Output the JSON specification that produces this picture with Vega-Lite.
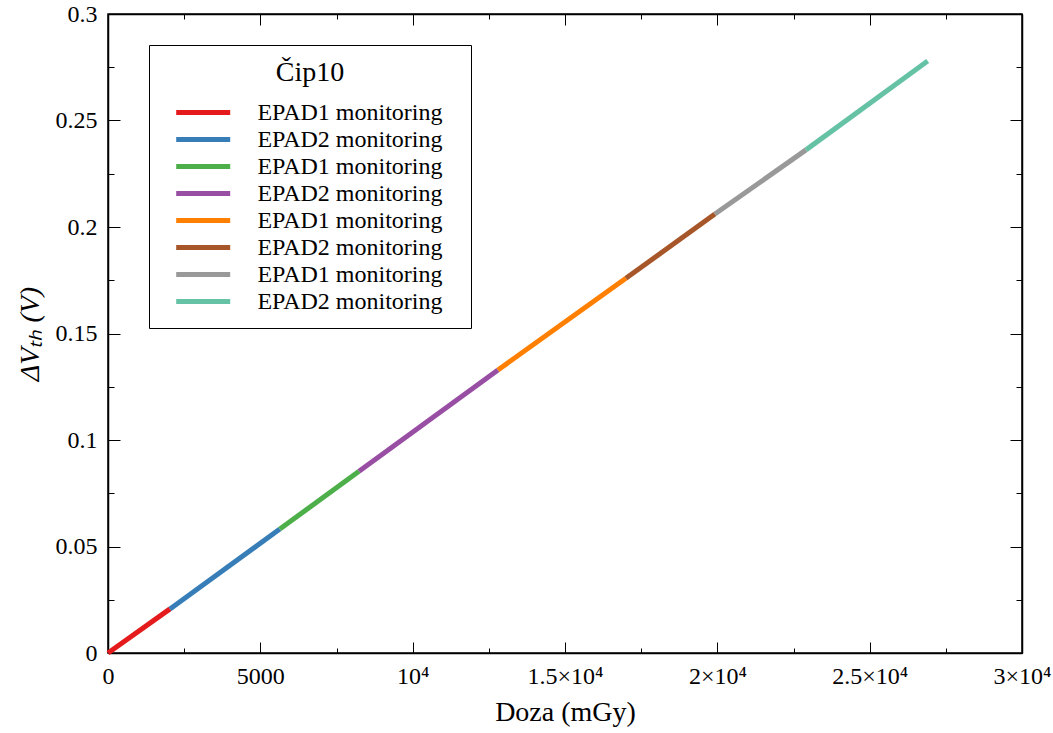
{
  "$schema": "https://vega.github.io/schema/vega-lite/v6.json",
  "width": 914,
  "height": 639,
  "autosize": {"type": "none"},
  "padding": {"left": 108, "top": 14, "right": 31, "bottom": 80},
  "background": "white",
  "config": {
    "view": {"stroke": "black", "strokeWidth": 1.5},
    "axis": {
      "domainColor": "black",
      "domainWidth": 1.5,
      "tickColor": "black",
      "tickWidth": 1,
      "labelColor": "black",
      "labelFont": "Liberation Serif",
      "labelFontSize": 24,
      "titleFont": "Liberation Serif",
      "titleFontSize": 28,
      "titleFontWeight": "normal",
      "titleColor": "black",
      "grid": false,
      "labelOverlap": false,
      "labelFlush": false
    },
    "legend": {
      "labelFont": "Liberation Serif",
      "titleFont": "Liberation Serif",
      "strokeWidth": 1
    }
  },
  "data": {
    "values": [
      {"dose": 0, "dv": 0, "s": "s1"},
      {"dose": 2035, "dv": 0.0207, "s": "s1"},
      {"dose": 2035, "dv": 0.0207, "s": "s2"},
      {"dose": 5640, "dv": 0.0582, "s": "s2"},
      {"dose": 5640, "dv": 0.0582, "s": "s3"},
      {"dose": 8240, "dv": 0.0853, "s": "s3"},
      {"dose": 8240, "dv": 0.0853, "s": "s4"},
      {"dose": 12800, "dv": 0.1329, "s": "s4"},
      {"dose": 12800, "dv": 0.1329, "s": "s5"},
      {"dose": 17000, "dv": 0.1759, "s": "s5"},
      {"dose": 17000, "dv": 0.1759, "s": "s6"},
      {"dose": 19920, "dv": 0.2061, "s": "s6"},
      {"dose": 19920, "dv": 0.2061, "s": "s7"},
      {"dose": 22910, "dv": 0.2362, "s": "s7"},
      {"dose": 22910, "dv": 0.2362, "s": "s8"},
      {"dose": 26904, "dv": 0.2779, "s": "s8"}
    ]
  },
  "resolve": {"axis": {"x": "independent", "y": "independent"}},
  "layer": [
    {
      "mark": {"type": "line", "strokeWidth": 5, "strokeCap": "butt"},
      "encoding": {
        "x": {
          "field": "dose", "type": "quantitative",
          "scale": {"domain": [0, 30000], "nice": false, "zero": false},
          "axis": {
            "orient": "bottom",
            "title": "Doza (mGy)",
            "titlePadding": 4,
            "labelFont": "Liberation Serif",
            "titleFont": "Liberation Serif",
            "values": [0, 2500, 5000, 7500, 10000, 12500, 15000, 17500, 20000, 22500, 25000, 27500, 30000],
            "tickSize": {"condition": {"test": "datum.value % 5000 === 0", "value": -11}, "value": -5},
            "labelPadding": 22,
            "labelExpr": "datum.value % 5000 !== 0 ? '' : datum.value === 0 ? '0' : datum.value === 5000 ? '5000' : datum.value === 10000 ? '10⁴' : format(datum.value / 10000, '') + '×10⁴'"
          }
        },
        "y": {
          "field": "dv", "type": "quantitative",
          "scale": {"domain": [0, 0.3], "nice": false, "zero": false},
          "axis": {
            "orient": "left",
            "title": "ΔVₜₕ (V)",
            "titleFontStyle": "italic",
            "titlePadding": 11,
            "labelFont": "Liberation Serif",
            "titleFont": "Liberation Serif",
            "values": [0, 0.025, 0.05, 0.075, 0.1, 0.125, 0.15, 0.175, 0.2, 0.225, 0.25, 0.275, 0.3],
            "tickSize": {"condition": {"test": "round(datum.value * 1000) % 50 === 0", "value": -12}, "value": -6},
            "labelPadding": 23,
            "labelExpr": "round(datum.value * 1000) % 50 !== 0 ? '' : format(datum.value, '~g')"
          }
        },
        "color": {
          "field": "s", "type": "nominal",
          "scale": {
            "domain": ["s1", "s2", "s3", "s4", "s5", "s6", "s7", "s8"],
            "range": ["#e41a1c", "#377eb8", "#4daf4a", "#984ea3", "#ff7f00", "#a65628", "#999999", "#66c2a5"]
          },
          "legend": {
            "orient": "none",
            "legendX": 41,
            "legendY": 31,
            "title": "Čip10",
            "titleFontSize": 28,
            "titleFontWeight": "normal",
            "titleColor": "black",
            "titleAnchor": "middle",
            "titleBaseline": "top",
            "titlePadding": 12,
            "labelFontSize": 24,
            "labelColor": "black",
            "labelOffset": 40.7,
            "labelLimit": 400,
            "symbolType": "M-2.5,0H2.5M22.5,0",
            "symbolSize": 466.56,
            "symbolStrokeWidth": 5,
            "symbolOffset": 26.7,
            "rowPadding": 1,
            "padding": 14,
            "strokeColor": "black",
            "fillColor": "white",
            "labelExpr": "indexof(['s1','s3','s5','s7'], datum.value) >= 0 ? 'EPAD1 monitoring' : 'EPAD2 monitoring'"
          }
        }
      }
    },
    {
      "mark": {"type": "line", "strokeOpacity": 0},
      "encoding": {
        "x": {
          "field": "dose", "type": "quantitative",
          "axis": {
            "orient": "top",
            "title": null,
            "labels": false,
            "values": [0, 2500, 5000, 7500, 10000, 12500, 15000, 17500, 20000, 22500, 25000, 27500, 30000],
            "tickSize": {"condition": {"test": "datum.value % 5000 === 0", "value": -11}, "value": -5}
          }
        },
        "y": {
          "field": "dv", "type": "quantitative",
          "axis": {
            "orient": "right",
            "title": null,
            "labels": false,
            "values": [0, 0.025, 0.05, 0.075, 0.1, 0.125, 0.15, 0.175, 0.2, 0.225, 0.25, 0.275, 0.3],
            "tickSize": {"condition": {"test": "round(datum.value * 1000) % 50 === 0", "value": -12}, "value": -6}
          }
        },
        "detail": {"field": "s", "type": "nominal"}
      }
    }
  ]
}
